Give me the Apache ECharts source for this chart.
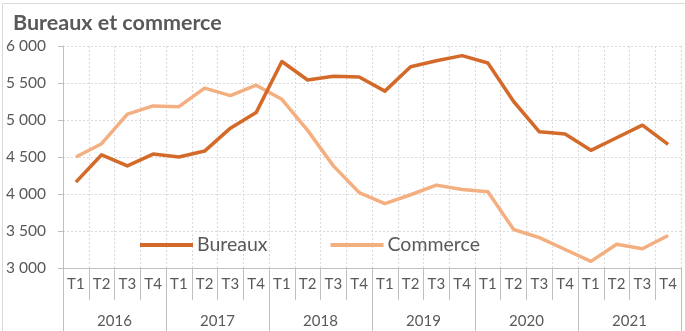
<!DOCTYPE html>
<html>
<head>
<meta charset="utf-8">
<script src="https://cdn.jsdelivr.net/npm/echarts@6/dist/echarts.min.js"></script>
<style>
  html, body { margin: 0; padding: 0; background: #fff; }
  #chart { width: 685px; height: 331px; }
</style>
</head>
<body>
<div id="chart"></div>
<script>
// Quarterly figures, 2016–2021
const years = ['2016', '2017', '2018', '2019', '2020', '2021'];
const quarters = ['T1', 'T2', 'T3', 'T4'];
const quarterLabels = years.flatMap(() => quarters);

const bureaux = [
  4160, 4530, 4380, 4540,
  4500, 4580, 4890, 5100,
  5790, 5540, 5590, 5580,
  5390, 5720, 5800, 5870,
  5770, 5250, 4840, 4810,
  4590, 4760, 4930, 4670
];
const commerce = [
  4500, 4680, 5080, 5190,
  5180, 5430, 5330, 5470,
  5280, 4860, 4380, 4020,
  3870, 3990, 4120, 4060,
  4030, 3520, 3410, 3250,
  3090, 3320, 3260, 3440
];

const yTicks = { min: 3000, max: 6000, step: 500 };

const textColor = '#595959';
const axisColor = '#BFBFBF';
const gridColor = '#D9D9D9';
const font = 'Lato';

const chart = echarts.init(document.getElementById('chart'), null, { renderer: 'canvas' });

chart.setOption({
  animation: false,
  backgroundColor: '#fff',
  textStyle: { fontFamily: font },
  graphic: [{
    type: 'rect',
    shape: { x: 2.5, y: 3.5, width: 690, height: 340 },
    style: { fill: 'none', stroke: '#D9D9D9', lineWidth: 1 },
    silent: true,
    z: -1
  }],
  title: {
    text: 'Bureaux et commerce',
    left: 8,
    top: 7,
    textStyle: { fontFamily: font, fontSize: 21.5, fontWeight: 'bold', color: textColor }
  },
  legend: {
    left: 135,
    top: 230,
    icon: 'rect',
    itemWidth: 53,
    itemHeight: 4,
    itemGap: 63,
    textStyle: { fontFamily: font, fontSize: 19.5, color: textColor, padding: [0, 0, 0, -1] },
    data: ['Bureaux', 'Commerce']
  },
  grid: { left: 63, right: 4, top: 46, bottom: 63, containLabel: false },
  xAxis: [
    {
      type: 'category',
      data: quarterLabels,
      boundaryGap: true,
      position: 'bottom',
      axisLine: { show: true, lineStyle: { color: axisColor, width: 1 } },
      axisTick: { show: true, interval: 0, length: 32, lineStyle: { color: axisColor } },
      axisLabel: { interval: 0, margin: 9, fontSize: 15, color: textColor, fontFamily: font },
      splitLine: { show: true, interval: 0, lineStyle: { color: gridColor, type: [2, 2] } }
    },
    {
      type: 'category',
      data: years,
      boundaryGap: true,
      position: 'bottom',
      offset: 32,
      axisLine: { show: false },
      axisTick: { show: true, interval: 0, length: 32, lineStyle: { color: axisColor } },
      axisLabel: { interval: 0, margin: 14, fontSize: 15, color: textColor, fontFamily: font },
      splitLine: { show: false }
    }
  ],
  yAxis: {
    type: 'value',
    min: yTicks.min,
    max: yTicks.max,
    interval: yTicks.step,
    axisLine: { show: true, lineStyle: { color: axisColor } },
    axisTick: { show: true, length: 5, lineStyle: { color: axisColor } },
    axisLabel: {
      margin: 17,
      fontSize: 15.5,
      color: textColor,
      fontFamily: font,
      formatter: v => String(v).replace(/\B(?=(\d{3})+(?!\d))/g, ' ')
    },
    splitLine: { show: true, lineStyle: { color: gridColor, type: [2, 2] } }
  },
  series: [
    {
      name: 'Bureaux',
      type: 'line',
      data: bureaux,
      symbol: 'none',
      lineStyle: { color: '#D46A2A', width: 3.5, join: 'round' },
      itemStyle: { color: '#D46A2A' },
      z: 3
    },
    {
      name: 'Commerce',
      type: 'line',
      data: commerce,
      symbol: 'none',
      lineStyle: { color: '#F4AF80', width: 3.5, join: 'round' },
      itemStyle: { color: '#F4AF80' },
      z: 2
    }
  ]
});
</script>
</body>
</html>
